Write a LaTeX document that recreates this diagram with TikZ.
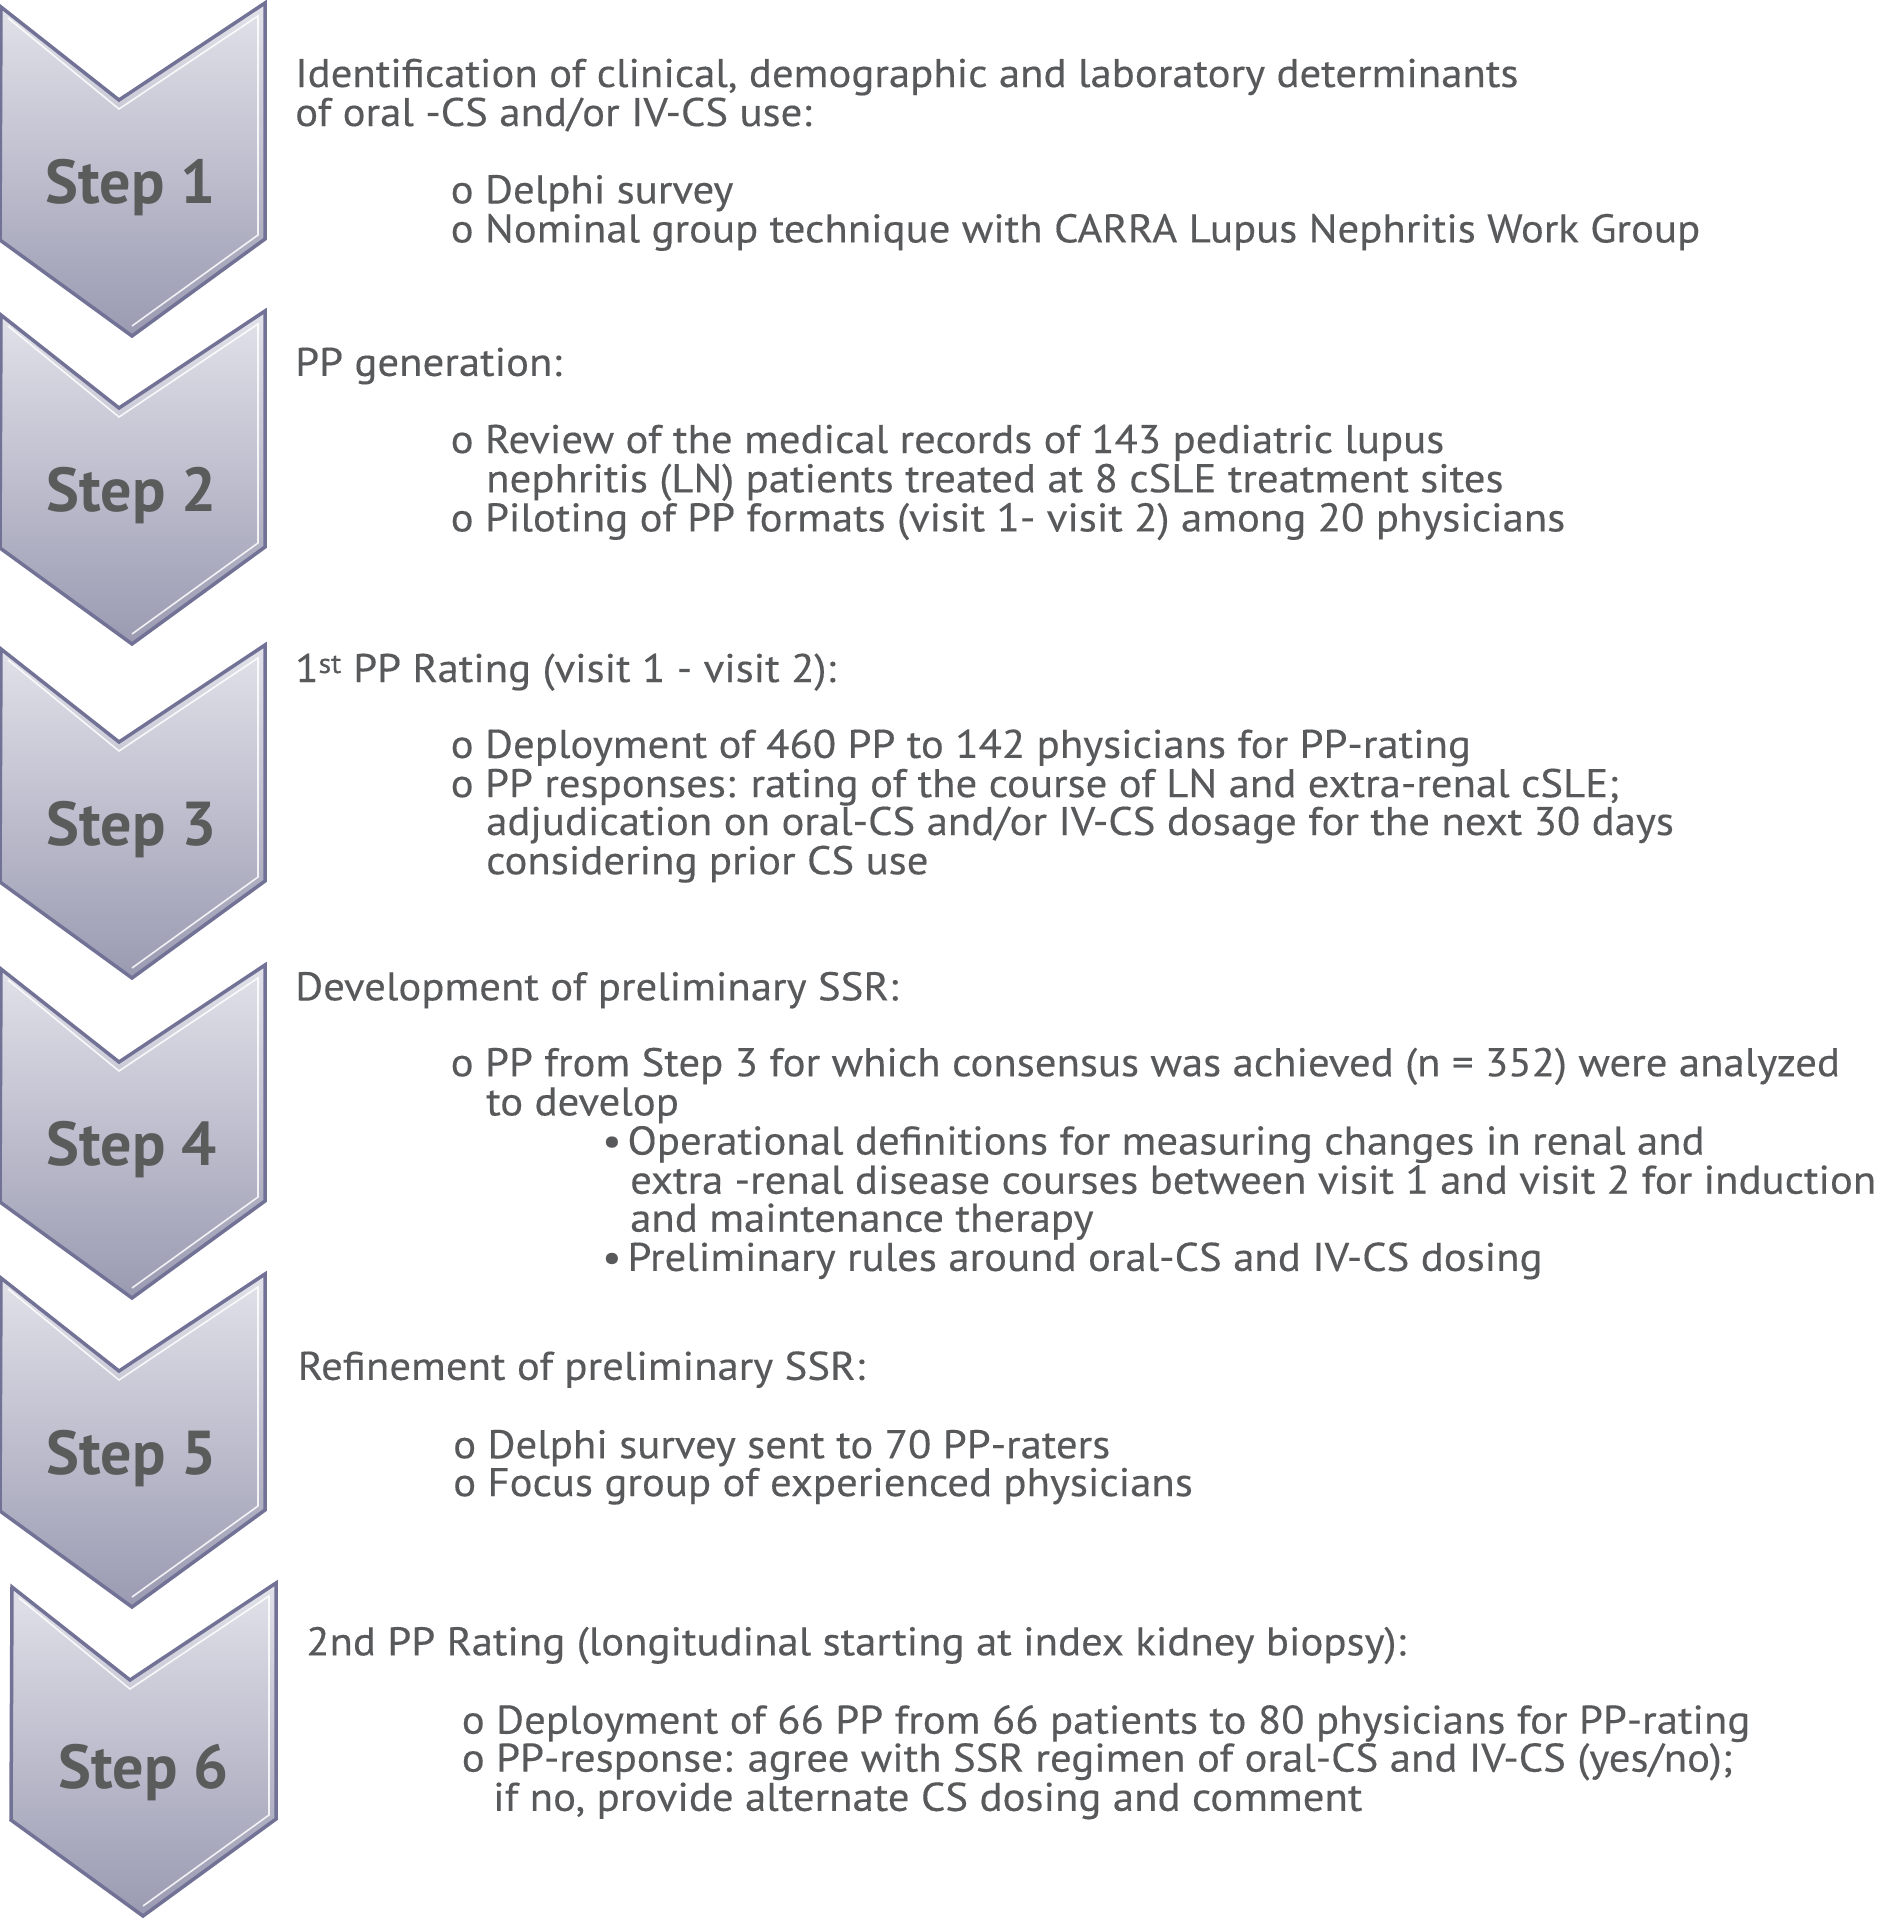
\documentclass[tikz,border=0pt]{standalone}
\usepackage{fontspec}
\setmainfont{PT Sans}
\newfontfamily\bodyfont{PT Sans}[FakeStretch=1.07,FakeBold=0.3]
\definecolor{chevTop}{RGB}{226,226,234}
\definecolor{chevBot}{RGB}{154,154,178}
\definecolor{chevEdge}{RGB}{114,114,150}
\definecolor{txt}{RGB}{88,89,91}
\definecolor{steptxt}{RGB}{90,92,92}
\tikzset{
  chevshape/.style={top color=chevTop, bottom color=chevBot, draw=chevEdge, line width=3.5pt, line join=miter},
  hilite/.style={draw=white, line width=1.6pt, opacity=0.85, line join=miter},
  steplabel/.style={anchor=base, inner sep=0pt, text=steptxt, font=\fontsize{62}{72}\selectfont\bfseries},
  body/.style={anchor=base west, inner sep=0pt, text=txt, font=\bodyfont\fontsize{40}{39}\selectfont},
}
\newcommand\mychev[3]{%
  \coordinate (#1-tl) at (#2+1,#3+4);
  \coordinate (#1-n) at (#2+119,#3+97);
  \coordinate (#1-tr) at (#2+265,#3);
  \coordinate (#1-br) at (#2+265,#3+236);
  \coordinate (#1-tip) at (#2+132,#3+333);
  \coordinate (#1-bl) at (#2,#3+237);
  \shadedraw[chevshape] (#1-tl) -- (#1-n) -- (#1-tr) -- (#1-br) -- (#1-tip) -- (#1-bl) -- cycle;
  \draw[hilite] (#2+8,#3+15) -- (#2+119,#3+106) -- (#2+258,#3+13) -- (#2+258,#3+232) -- (#2+132,#3+323);
}
\begin{document}
\begin{tikzpicture}[x=1pt,y=-1pt]
\fill[white] (0,0) rectangle (1878,1920);
\useasboundingbox (0,0) rectangle (1878,1920);

\mychev{c1}{0}{3}
\mychev{c2}{0}{311}
\mychev{c3}{0}{645}
\mychev{c4}{0}{965}
\mychev{c5}{0}{1274}
\mychev{c6}{11}{1583}

\node[steplabel] (s1) at (130.5,203) {Step 1};
\node[steplabel] (s2) at (131.5,511) {Step 2};
\node[steplabel] (s3) at (131.5,845) {Step 3};
\node[steplabel] (s4) at (131.5,1165) {Step 4};
\node[steplabel] (s5) at (131.5,1474) {Step 5};
\node[steplabel] (s6) at (143.5,1788) {Step 6};

% Step 1
\node[body] (t1a) at (295,87) {Identification of clinical, demographic and laboratory determinants};
\node[body] (t1b) at (295,126) {of oral -CS and/or IV-CS use:};
\node[body] (t1c) at (450.5,203.3) {o Delphi survey};
\node[body] (t1d) at (450.5,242.4) {o Nominal group technique with CARRA Lupus Nephritis Work Group};
% Step 2
\node[body] (t2a) at (295,375.9) {PP generation:};
\node[body] (t2b) at (450.5,453) {o Review of the medical records of 143 pediatric lupus};
\node[body] (t2c) at (486,492.2) {nephritis (LN) patients treated at 8 cSLE treatment sites};
\node[body] (t2d) at (450.5,531.4) {o Piloting of PP formats (visit 1- visit 2) among 20 physicians};
% Step 3
\node[body] (t3a) at (295,682) {1\textsuperscript{st} PP Rating (visit 1 - visit 2):};
\node[body] (t3b) at (450.5,757.9) {o Deployment of 460 PP to 142 physicians for PP-rating};
\node[body] (t3c) at (450.5,797.1) {o PP responses: rating of the course of LN and extra-renal cSLE;};
\node[body] (t3d) at (486,835) {adjudication on oral-CS and/or IV-CS dosage for the next 30 days};
\node[body] (t3e) at (486,874.2) {considering prior CS use};
% Step 4
\node[body] (t4a) at (295,1000.3) {Development of preliminary SSR:};
\node[body] (t4b) at (450.5,1076.2) {o PP from Step 3 for which consensus was achieved (n = 352) were analyzed};
\node[body] (t4c) at (486,1115.4) {to develop};
\node[body] (t4d) at (602,1154.5) {•\hspace{6pt}Operational definitions for measuring changes in renal and};
\node[body] (t4e) at (630,1193.7) {extra -renal disease courses between visit 1 and visit 2 for induction};
\node[body] (t4f) at (630,1231.7) {and maintenance therapy};
\node[body] (t4g) at (602,1270.9) {•\hspace{6pt}Preliminary rules around oral-CS and IV-CS dosing};
% Step 5
\node[body] (t5a) at (297.5,1379.8) {Refinement of preliminary SSR:};
\node[body] (t5b) at (453,1458.2) {o Delphi survey sent to 70 PP-raters};
\node[body] (t5c) at (453,1496.1) {o Focus group of experienced physicians};
% Step 6
\node[body] (t6a) at (306,1655.3) {2nd PP Rating (longitudinal starting at index kidney biopsy):};
\node[body] (t6b) at (461.6,1733.6) {o Deployment of 66 PP from 66 patients to 80 physicians for PP-rating};
\node[body] (t6c) at (461.6,1771.6) {o PP-response: agree with SSR regimen of oral-CS and IV-CS (yes/no);};
\node[body] (t6d) at (493,1810.8) {if no, provide alternate CS dosing and comment};
\end{tikzpicture}
\end{document}
